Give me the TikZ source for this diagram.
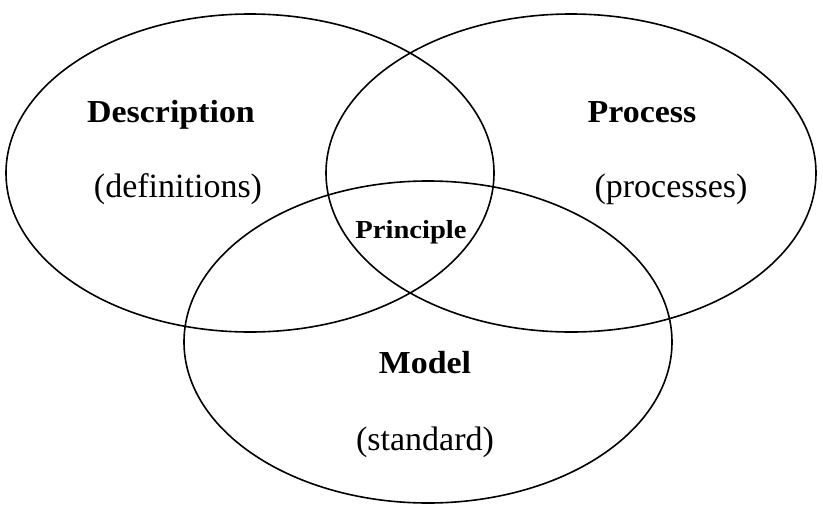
\documentclass[tikz,border=0pt]{standalone}
\usepackage{fontspec}
\setmainfont{Liberation Serif}
\newfontfamily\bfam[FakeStretch=1.06]{Liberation Serif Bold}
\newfontfamily\pfam[FakeStretch=1.1]{Liberation Serif Bold}
\begin{document}
\begin{tikzpicture}[x=1pt,y=-1pt,
  ring/.style={line width=1.6pt, black},
  head/.style={anchor=base, inner sep=0pt, font=\bfam\fontsize{32}{36}\selectfont},
  sub/.style={anchor=base, inner sep=0pt, font=\fontsize{34}{38}\selectfont},
  core/.style={anchor=base, inner sep=0pt, font=\pfam\fontsize{26}{30}\selectfont}]
\useasboundingbox (0,0) rectangle (823,512);
\draw[ring] (250,173) ellipse [x radius=244pt, y radius=159pt];
\draw[ring] (571,173) ellipse [x radius=245pt, y radius=159pt];
\draw[ring] (428,342) ellipse [x radius=244pt, y radius=161pt];
\node[head] (desc) at (171,122) {Description};
\node[sub] (defs) at (178,197) {(definitions)};
\node[head] (proc) at (642,122) {Process};
\node[sub] (procs) at (671,197) {(processes)};
\node[core] (prin) at (411,238) {Principle};
\node[head] (model) at (425,373) {Model};
\node[sub] (std) at (425,450) {(standard)};
\end{tikzpicture}
\end{document}
